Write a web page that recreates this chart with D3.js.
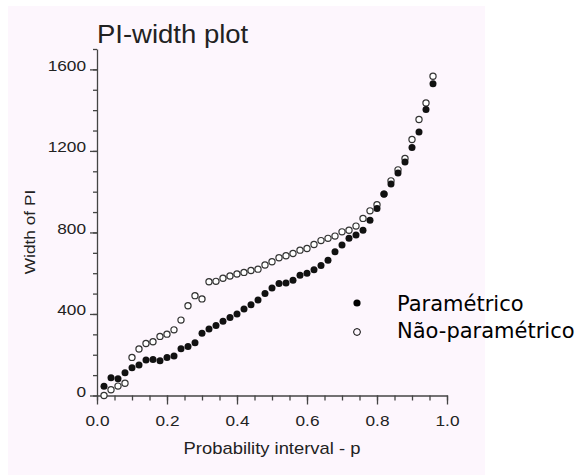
<!DOCTYPE html>
<html>
<head>
<meta charset="utf-8">
<script src="https://cdn.jsdelivr.net/npm/d3@7"></script>
<style>
  body { margin: 0; background: #fff; }
  text { font-family: "Liberation Sans", Arial, sans-serif; fill: #222; }
  .legend text { font-family: "DejaVu Sans", Verdana, sans-serif; fill: #000; }
</style>
</head>
<body>
<svg id="chart" width="582" height="475"></svg>
<script>
// probability interval p for each point
const pValues = [0.02, 0.04, 0.06, 0.08, 0.10, 0.12, 0.14, 0.16, 0.18, 0.20,
                 0.22, 0.24, 0.26, 0.28, 0.30, 0.32, 0.34, 0.36, 0.38, 0.40,
                 0.42, 0.44, 0.46, 0.48, 0.50, 0.52, 0.54, 0.56, 0.58, 0.60,
                 0.62, 0.64, 0.66, 0.68, 0.70, 0.72, 0.74, 0.76, 0.78, 0.80,
                 0.82, 0.84, 0.86, 0.88, 0.90, 0.92, 0.94, 0.96];

// width of PI
const parametrico = [45, 87, 82, 112, 136, 150, 174, 177, 170, 187,
                     194, 229, 240, 259, 305, 326, 344, 364, 383, 400,
                     425, 445, 468, 501, 528, 550, 552, 566, 590, 600,
                     617, 638, 664, 705, 738, 771, 787, 811, 860, 918,
                     988, 1038, 1092, 1146, 1217, 1293, 1403, 1530];

const naoParametrico = [0, 28, 46, 60, 187, 228, 255, 264, 290, 301,
                        322, 370, 440, 490, 474, 558, 560, 575, 586, 596,
                        604, 613, 620, 640, 656, 676, 686, 697, 713, 721,
                        741, 760, 771, 782, 803, 811, 831, 869, 906, 936,
                        988, 1053, 1107, 1163, 1256, 1354, 1435, 1566];

const seriesNames = ["Paramétrico", "Não-paramétrico"];

const xMajorTicks = [0, 0.2, 0.4, 0.6, 0.8, 1.0];
const yMajorTicks = [0, 400, 800, 1200, 1600];

const svg = d3.select("#chart");

// pale background panel
svg.append("rect")
  .attr("x", 8).attr("y", 6)
  .attr("width", 477).attr("height", 469)
  .attr("fill", "#fdf6fd");

const x = d3.scaleLinear().domain([0, 1]).range([97, 447]);
const y = d3.scaleLinear().domain([0, 1700]).range([395.5, 49]);

const axisColor = "#444";
const stretch = 1.15; // the original text is a bit wide

// minor ticks first
svg.append("g")
  .attr("transform", "translate(0,395.5)")
  .call(d3.axisBottom(x).tickValues(d3.range(0, 1.001, 0.05)).tickSize(5).tickFormat(""))
  .call(g => g.select(".domain").remove());

svg.append("g")
  .attr("transform", "translate(97,0)")
  .call(d3.axisLeft(y).tickValues(d3.range(0, 1701, 100)).tickSize(4).tickFormat(""))
  .call(g => g.select(".domain").remove());

const xAxis = svg.append("g")
  .attr("transform", "translate(0,395.5)")
  .call(d3.axisBottom(x).tickValues(xMajorTicks).tickSize(9).tickSizeOuter(0)
    .tickFormat(d3.format(".1f")));

xAxis.selectAll(".tick text")
  .attr("y", 31).attr("dy", 0)
  .attr("font-size", 15)
  .attr("transform", `scale(${stretch},1)`);

const yAxis = svg.append("g")
  .attr("transform", "translate(97,0)")
  .call(d3.axisLeft(y).tickValues(yMajorTicks).tickSize(7).tickSizeOuter(0)
    .tickFormat(d3.format("d")));

yAxis.selectAll(".tick text")
  .attr("x", -11 / stretch).attr("dy", 1)
  .attr("font-size", 15)
  .attr("transform", `scale(${stretch},1)`);

svg.selectAll(".tick line, .domain")
  .attr("stroke", axisColor)
  .attr("stroke-width", 1.3);
svg.selectAll(".tick text").attr("fill", "#222").attr("font-family", null);

// data points
const openPts = pValues.map((p, i) => ({ p: p, v: naoParametrico[i] }));
const filledPts = pValues.map((p, i) => ({ p: p, v: parametrico[i] }));

svg.append("g").selectAll("circle")
  .data(openPts)
  .join("circle")
  .attr("cx", d => x(d.p))
  .attr("cy", d => y(d.v))
  .attr("r", 3.1)
  .attr("fill", "#fff")
  .attr("stroke", "#333")
  .attr("stroke-width", 1.2);

svg.append("g").selectAll("circle")
  .data(filledPts)
  .join("circle")
  .attr("cx", d => x(d.p))
  .attr("cy", d => y(d.v))
  .attr("r", 3.5)
  .attr("fill", "#111");

// titles
svg.append("text")
  .attr("transform", `translate(97,43) scale(1.1,1)`)
  .attr("font-size", 25)
  .text("PI-width plot");

svg.append("text")
  .attr("transform", `translate(272,454) scale(${stretch},1)`)
  .attr("text-anchor", "middle")
  .attr("font-size", 16)
  .text("Probability interval - p");

svg.append("text")
  .attr("transform", `translate(35,232) rotate(-90) scale(${stretch},1)`)
  .attr("text-anchor", "middle")
  .attr("font-size", 15)
  .text("Width of PI");

// legend
const legend = svg.append("g").attr("class", "legend");

legend.append("circle")
  .attr("cx", 357).attr("cy", 303).attr("r", 3.6)
  .attr("fill", "#000");
legend.append("circle")
  .attr("cx", 357).attr("cy", 332).attr("r", 3.4)
  .attr("fill", "none").attr("stroke", "#000").attr("stroke-width", 1);

legend.selectAll("text")
  .data(seriesNames)
  .join("text")
  .attr("x", 397)
  .attr("y", (d, i) => 311 + i * 27)
  .attr("font-size", 21)
  .text(d => d);
</script>
</body>
</html>
